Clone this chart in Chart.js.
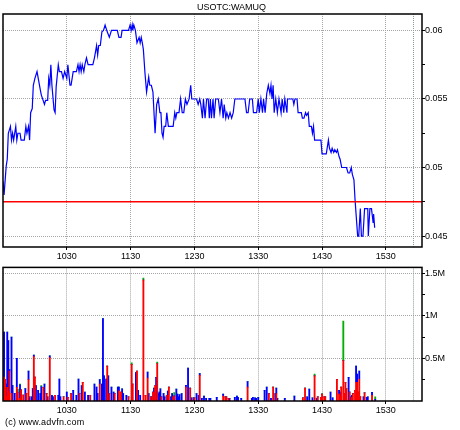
<!DOCTYPE html>
<html>
<head>
<meta charset="utf-8">
<script src="https://cdn.jsdelivr.net/npm/chart.js@4/dist/chart.umd.min.js"></script>
<style>
  html, body { margin: 0; padding: 0; background: #fff; }
  #wrap { position: relative; width: 460px; height: 430px; overflow: hidden; }
  canvas { position: absolute; left: 0; }
  #priceChart { top: 0; }
  #volChart { top: 262px; }
  #copy { position: absolute; left: 5px; top: 417px; font: 9px 'Liberation Sans', Arial, sans-serif; letter-spacing: 0.2px; color: #000; }
</style>
</head>
<body>
<div id="wrap">
  <canvas id="priceChart" width="460" height="262"></canvas>
  <canvas id="volChart" width="460" height="156"></canvas>
  <div id="copy">(c) www.advfn.com</div>
</div>
<script>
// time = minutes after the 09:30 open
const timeTicks  = [60, 120, 180, 240, 300, 360];
const timeLabels = ['1030', '1130', '1230', '1330', '1430', '1530'];
const dayEnd     = 394;
const sessionEnd = 386;

const priceTicks  = [0.045, 0.05, 0.055, 0.06];
const priceLabels = ['0.045', '0.05', '0.055', '0.06'];
const priceMinor  = [0.0475, 0.0525, 0.0575];
const priceMin    = 0.0442;
const priceMax    = 0.0612;
const prevClose   = 0.0475;

const volTicks  = [500, 1000, 1500];           // thousands of shares
const volLabels = ['0.5M', '1M', '1.5M'];
const volMinor  = [250, 750, 1250];
const volMax    = 1568;

const priceMins = [
  0, 1, 3, 4, 5, 7, 8, 9, 10, 12, 13, 14, 16, 17, 20, 21.5, 22.5, 24, 25, 26,
  27.5, 28.5, 30, 32, 35, 36, 39, 40, 42, 43, 44, 45, 46, 48, 49, 50, 52, 53, 55, 56.5,
  58, 60, 61, 63, 64, 66, 69, 70.5, 71.5, 72.5, 73.5, 74.5, 76, 77, 78.5, 80, 84.5, 86, 88, 89,
  90, 91.5, 93, 94.5, 96, 98, 100, 102, 107.5, 109, 111, 112, 118, 119.5, 120.5, 121.5, 122, 123, 124.5, 126,
  128, 129, 130, 131, 132, 133.5, 135, 137, 138, 139.5, 141, 143, 144.5, 146, 147.5, 148.5, 149.5, 150.5, 151.5, 153,
  154, 155.5, 160, 161.5, 162.5, 163.5, 165.5, 167, 168.5, 170, 171.5, 173, 175, 176.5, 177.5, 182, 183.5, 185, 186, 187.5,
  188.5, 190, 191.5, 193, 194, 195, 196, 197.5, 198.5, 200, 202.5, 204, 205.5, 207, 208, 209.5, 210.5, 212, 213.5, 215,
  216.5, 218, 227.5, 229, 230.5, 232, 234.5, 235.5, 238.5, 240, 241, 242.5, 244, 245, 246.5, 248, 249.5, 251, 252, 253,
  254, 255, 256.5, 258, 259.5, 261.5, 262.5, 264, 265, 267, 267.5, 272.5, 273.5, 274.5, 276.5, 277.5, 280.5, 281.5, 283, 284.5,
  285.5, 287, 288, 290, 291, 292, 293, 299, 300, 304, 306, 307, 308.5, 309.5, 311, 312, 313.5, 314.5, 316, 317,
  318.5, 323, 324.5, 326, 327.5, 328.5, 330, 331, 332, 333.5, 334.5, 336, 337, 338.5, 340, 343, 343.5, 345, 346.5, 348,
  348.5, 349.5,
];
const priceValues = [
  0.0490, 0.0480, 0.0501, 0.0506, 0.0525, 0.0530, 0.0520, 0.0525, 0.0520, 0.0530, 0.0520, 0.0525, 0.0525, 0.0520, 0.0520, 0.0530, 0.0525, 0.0530, 0.0520, 0.0540,
  0.0543, 0.0560, 0.0565, 0.0570, 0.0557, 0.0553, 0.0546, 0.0549, 0.0549, 0.0565, 0.0560, 0.0575, 0.0560, 0.0542, 0.0540, 0.0559, 0.0575, 0.0570, 0.0570, 0.0565,
  0.0570, 0.0565, 0.0575, 0.0560, 0.0560, 0.0570, 0.0570, 0.0575, 0.0570, 0.0575, 0.0570, 0.0575, 0.0570, 0.0575, 0.0580, 0.0575, 0.0575, 0.0580, 0.0589, 0.0582,
  0.0589, 0.0589, 0.0599, 0.0600, 0.0604, 0.0599, 0.0595, 0.0600, 0.0600, 0.0595, 0.0595, 0.0600, 0.0600, 0.0604, 0.0600, 0.0604, 0.0600, 0.0604, 0.0600, 0.0591,
  0.0595, 0.0591, 0.0595, 0.0591, 0.0586, 0.0569, 0.0555, 0.0566, 0.0560, 0.0560, 0.0555, 0.0525, 0.0546, 0.0550, 0.0540, 0.0540, 0.0525, 0.0522, 0.0530, 0.0530,
  0.0540, 0.0530, 0.0530, 0.0540, 0.0536, 0.0540, 0.0540, 0.0550, 0.0540, 0.0540, 0.0550, 0.0546, 0.0550, 0.0560, 0.0550, 0.0550, 0.0546, 0.0550, 0.0546, 0.0536,
  0.0550, 0.0536, 0.0550, 0.0550, 0.0536, 0.0550, 0.0536, 0.0550, 0.0536, 0.0550, 0.0550, 0.0540, 0.0550, 0.0536, 0.0546, 0.0536, 0.0540, 0.0536, 0.0540, 0.0536,
  0.0540, 0.0550, 0.0550, 0.0540, 0.0540, 0.0550, 0.0550, 0.0540, 0.0540, 0.0550, 0.0540, 0.0550, 0.0540, 0.0550, 0.0540, 0.0554, 0.0560, 0.0554, 0.0560, 0.0550,
  0.0560, 0.0540, 0.0550, 0.0540, 0.0550, 0.0540, 0.0550, 0.0540, 0.0550, 0.0540, 0.0550, 0.0550, 0.0546, 0.0550, 0.0550, 0.0540, 0.0540, 0.0536, 0.0536, 0.0540,
  0.0538, 0.0540, 0.0530, 0.0530, 0.0525, 0.0530, 0.0520, 0.0520, 0.0510, 0.0510, 0.0520, 0.0514, 0.0511, 0.0514, 0.0511, 0.0513, 0.0511, 0.0513, 0.0508, 0.0506,
  0.0500, 0.0500, 0.0496, 0.0496, 0.0500, 0.0495, 0.0491, 0.0477, 0.0466, 0.0450, 0.0450, 0.0470, 0.0450, 0.0450, 0.0470, 0.0470, 0.0450, 0.0470, 0.0470, 0.0460,
  0.0466, 0.0456,
];

// volume per minute, thousands of shares: red = down, blue = up, green = unchanged
const volMins = [
  1, 2, 3, 4, 5, 6, 8, 9, 11, 13, 14, 16, 17, 19, 21, 22, 24, 25, 27, 28,
  29, 30, 31, 33, 35, 36, 38, 39, 41, 42, 44, 46, 47, 49, 52, 53, 54, 57, 60, 61,
  64, 66, 69, 71, 72, 74, 75, 77, 80, 82, 86, 88, 89, 91, 93, 94, 95, 97, 98, 99,
  100, 102, 104, 105, 108, 109, 111, 112, 113, 116, 118, 121, 122, 125, 126, 127, 129, 132, 134, 136,
  137, 139, 140, 141, 142, 143, 144, 145, 146, 147, 148, 149, 151, 152, 154, 155, 156, 158, 159, 160,
  161, 163, 164, 165, 166, 168, 172, 174, 176, 177, 179, 180, 182, 184, 185, 187, 189, 191, 194, 195,
  201, 207, 209, 210, 212, 213, 218, 220, 221, 224, 230, 234, 235, 237, 238, 240, 246, 248, 250, 252,
  254, 256, 257, 258, 265, 274, 282, 284, 286, 288, 291, 293, 295, 296, 299, 300, 302, 303, 308, 310,
  314, 316, 317, 318, 320, 321, 322, 323, 325, 326, 327, 328, 329, 331, 332, 333, 334, 335, 336, 339,
  340, 342, 343, 347, 350,
];
const volRed = [
  280, 250, 60, 160, 110, 350, 90, 0, 0, 160, 100, 30, 130, 70, 0, 90, 250, 0, 0, 0,
  520, 280, 0, 0, 0, 0, 160, 0, 87, 0, 510, 0, 0, 68, 0, 0, 0, 50, 0, 42,
  87, 0, 0, 0, 87, 0, 220, 0, 0, 68, 0, 0, 0, 200, 0, 0, 0, 0, 409, 0,
  87, 0, 0, 87, 0, 120, 106, 0, 0, 0, 49, 430, 200, 0, 352, 0, 0, 1420, 68, 270,
  0, 49, 0, 106, 0, 182, 0, 440, 0, 0, 0, 49, 0, 0, 68, 0, 163, 0, 0, 49,
  60, 0, 0, 0, 0, 0, 163, 0, 152, 0, 0, 38, 0, 0, 300, 0, 0, 0, 0, 0,
  0, 57, 49, 49, 30, 0, 0, 0, 0, 0, 163, 0, 0, 0, 0, 0, 0, 0, 87, 0,
  163, 0, 87, 0, 0, 0, 38, 152, 0, 0, 0, 295, 0, 49, 42, 80, 49, 49, 0, 0,
  254, 80, 49, 163, 473, 87, 220, 144, 0, 106, 0, 40, 87, 125, 220, 220, 106, 258, 49, 0,
  95, 0, 0, 68, 0,
];
const volBlue = [
  530, 0, 140, 650, 600, 20, 660, 180, 90, 340, 0, 160, 0, 0, 145, 0, 100, 50, 50, 145,
  20, 0, 180, 125, 87, 170, 0, 200, 0, 50, 20, 68, 50, 0, 68, 258, 50, 0, 106, 0,
  0, 125, 68, 258, 0, 182, 0, 106, 68, 0, 200, 163, 87, 50, 200, 966, 295, 258, 0, 295,
  0, 163, 106, 0, 163, 43, 0, 144, 87, 68, 0, 0, 0, 333, 0, 125, 68, 0, 0, 70,
  87, 0, 49, 0, 152, 0, 277, 0, 87, 106, 144, 0, 87, 49, 0, 117, 0, 49, 87, 0,
  0, 140, 80, 49, 76, 87, 20, 386, 0, 38, 38, 0, 87, 68, 22, 30, 57, 30, 30, 30,
  42, 23, 0, 0, 0, 30, 42, 57, 42, 30, 64, 30, 42, 38, 30, 42, 125, 163, 0, 30,
  0, 87, 65, 30, 30, 57, 0, 0, 49, 140, 38, 0, 30, 0, 0, 0, 0, 0, 106, 38,
  0, 45, 57, 0, 0, 0, 0, 0, 277, 0, 49, 28, 0, 0, 189, 95, 0, 94, 0, 49,
  0, 42, 49, 34, 19,
];
const volGreen = [
  0, 0, 0, 0, 0, 0, 0, 0, 0, 0, 40, 10, 0, 0, 0, 0, 0, 0, 0, 0,
  0, 0, 0, 0, 0, 12, 0, 0, 0, 0, 0, 0, 0, 0, 0, 0, 0, 0, 0, 0,
  0, 0, 0, 0, 0, 0, 0, 0, 0, 0, 0, 0, 0, 0, 0, 0, 0, 0, 0, 0,
  0, 0, 0, 0, 0, 0, 0, 0, 0, 0, 0, 17, 0, 0, 0, 0, 0, 23, 0, 0,
  0, 0, 0, 0, 0, 0, 0, 18, 0, 0, 0, 0, 0, 0, 0, 0, 0, 0, 0, 0,
  38, 0, 0, 0, 0, 0, 0, 0, 0, 0, 0, 0, 0, 0, 0, 0, 0, 0, 0, 0,
  0, 0, 0, 0, 0, 0, 0, 0, 0, 0, 0, 0, 0, 0, 0, 0, 0, 0, 0, 0,
  0, 0, 0, 0, 0, 0, 0, 0, 0, 0, 0, 20, 0, 0, 0, 7, 0, 0, 0, 0,
  0, 0, 0, 0, 466, 0, 0, 0, 0, 0, 0, 0, 0, 0, 0, 0, 0, 0, 0, 0,
  0, 0, 0, 0, 30,
];

const FONT = { family: "'Liberation Sans', Arial, sans-serif", size: 9 };
const GRID = '#a4a4a4';

// black box round the plot + dotted end-of-session line
const framePlugin = {
  id: 'frame',
  beforeDatasetsDraw(chart) {
    const { ctx, chartArea: a, scales } = chart;
    const x = Math.round(scales.x.getPixelForValue(sessionEnd)) + 0.5;
    ctx.save();
    ctx.strokeStyle = '#8a9a9a';
    ctx.lineWidth = 1;
    ctx.setLineDash([1, 1]);
    ctx.beginPath();
    ctx.moveTo(x, a.top);
    ctx.lineTo(x, a.bottom);
    ctx.stroke();
    ctx.restore();
  },
  afterDraw(chart) {
    const { ctx, chartArea: a } = chart;
    ctx.save();
    ctx.strokeStyle = '#000';
    ctx.lineWidth = 1.5;
    ctx.strokeRect(a.left, a.top, a.right - a.left, a.bottom - a.top);
    ctx.restore();
  },
};

function timeAxis(h) {
  return {
    type: 'linear', min: 0, max: dayEnd, offset: false,
    afterBuildTicks: s => { s.ticks = timeTicks.map(v => ({ value: v })); },
    afterFit: s => { s.height = h; },
    ticks: {
      font: FONT, color: '#000', padding: 1, maxRotation: 0, autoSkip: false,
      callback: v => timeLabels[timeTicks.indexOf(v)],
    },
    grid: { color: GRID, tickColor: '#000', tickLength: 3, offset: false },
    border: { display: false, dash: [1, 1] },
  };
}

function valueAxis(min, max, major, labels, minor) {
  return {
    type: 'linear', position: 'right', min, max,
    afterBuildTicks: s => { s.ticks = [...major, ...minor].sort((a, b) => a - b).map(v => ({ value: v })); },
    afterFit: s => { s.width = 38; },
    ticks: {
      font: FONT, color: '#000', padding: 0, autoSkip: false,
      callback: v => { const i = major.indexOf(v); return i < 0 ? '' : labels[i]; },
    },
    grid: {
      color: c => (c.tick && major.includes(c.tick.value) ? GRID : 'rgba(0,0,0,0)'),
      tickColor: '#000', tickLength: 3,
    },
    border: { display: false, dash: [1, 1] },
  };
}

new Chart(document.getElementById('priceChart'), {
  type: 'line',
  data: {
    datasets: [
      {
        data: [{ x: 0, y: prevClose }, { x: dayEnd, y: prevClose }],
        borderColor: '#ff0000', borderWidth: 1.3, pointRadius: 0,
      },
      {
        data: priceMins.map((m, i) => ({ x: m, y: priceValues[i] })),
        borderColor: '#0000ff', borderWidth: 1.2, pointRadius: 0, tension: 0,
      },
    ],
  },
  options: {
    responsive: false, animation: false, devicePixelRatio: 1, events: [],
    layout: { padding: { left: 3, right: 0, top: 0, bottom: 0 } },
    plugins: {
      legend: { display: false },
      tooltip: { enabled: false },
      title: {
        display: true, text: 'USOTC:WAMUQ', color: '#000',
        font: { ...FONT, weight: 'normal', lineHeight: 1.2 }, padding: { top: 2, bottom: 1.2 },
      },
    },
    scales: {
      x: timeAxis(15),
      y: valueAxis(priceMin, priceMax, priceTicks, priceLabels, priceMinor),
    },
  },
  plugins: [framePlugin],
});

const bar = (data, color) => ({
  data: volMins.map((m, i) => ({ x: m, y: data[i] })),
  backgroundColor: color, borderWidth: 0, barThickness: 1.2,
});

new Chart(document.getElementById('volChart'), {
  type: 'bar',
  data: {
    datasets: [bar(volRed, '#ff0000'), bar(volBlue, '#0000ff'), bar(volGreen, '#00b000')],
  },
  options: {
    responsive: false, animation: false, devicePixelRatio: 1, events: [],
    layout: { padding: { left: 3, right: 0, top: 1, bottom: 0 } },
    plugins: { legend: { display: false }, tooltip: { enabled: false } },
    scales: {
      x: { ...timeAxis(17), stacked: true },
      y: { ...valueAxis(0, volMax, volTicks, volLabels, volMinor), stacked: true },
    },
  },
  plugins: [framePlugin],
});
</script>
</body>
</html>
